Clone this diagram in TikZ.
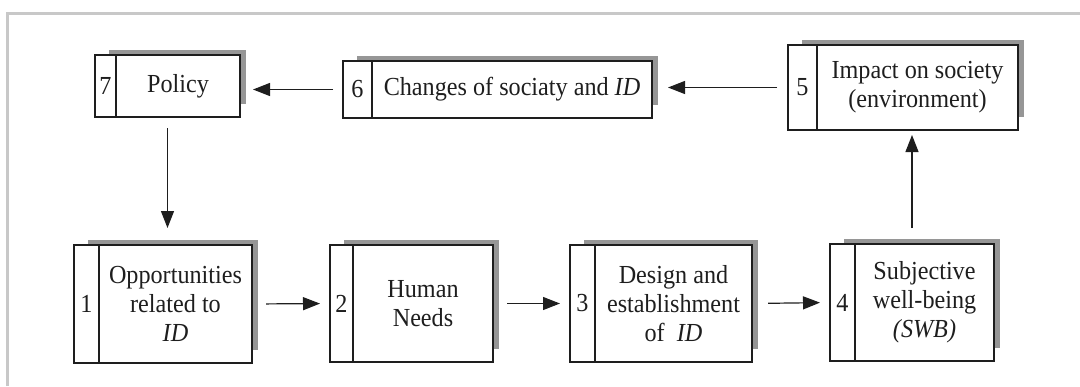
\documentclass[tikz,border=0pt]{standalone}
\usepackage{fontspec}
\setmainfont{Liberation Serif}[FakeStretch=0.93]
\usepackage{xcolor}
\usetikzlibrary{positioning, calc, arrows.meta, backgrounds}

\definecolor{framegray}{RGB}{200,200,200}
\definecolor{shadegray}{RGB}{150,150,150}
\definecolor{inkgray}{RGB}{30,30,30}

\begin{document}
\begin{tikzpicture}[x=0.5pt, y=-0.5pt,
    numcell/.style={draw=inkgray, line width=1.3pt, fill=white, outer sep=0pt, inner sep=0pt, anchor=north west},
    maincell/.style={draw=inkgray, line width=1.3pt, fill=white, outer sep=0pt, inner sep=0pt, align=center},
    arr/.style={-{Triangle[length=8.5pt, width=6.5pt]}, line width=0.6pt, inkgray},
    font=\fontsize{13}{14.6}\selectfont, text=inkgray]
  \useasboundingbox (0,0) rectangle (1080,386);
  \draw[framegray, line width=1.5pt] (7,386) -- (7,13) -- (1080,13);

  % top row
  \node[numcell, minimum width=10.5pt, minimum height=31pt] (n7) at (95,55) {7};
  \node[maincell, right=0pt of n7, minimum width=62pt, minimum height=31pt] (b7) {Policy};
  \node[numcell, minimum width=14.5pt, minimum height=28.5pt] (n6) at (343,61) {6};
  \node[maincell, right=0pt of n6, minimum width=140pt, minimum height=28.5pt] (b6) {Changes of sociaty and \textit{ID}};
  \node[numcell, minimum width=14.5pt, minimum height=42.5pt] (n5) at (788,45) {5};
  \node[maincell, right=0pt of n5, minimum width=100.5pt, minimum height=42.5pt] (b5) {Impact on society\\(environment)};

  % bottom row
  \node[numcell, minimum width=12.5pt, minimum height=59pt] (n1) at (74,245) {1};
  \node[maincell, right=0pt of n1, minimum width=76.5pt, minimum height=59pt] (b1) {Opportunities\\related to\\\textit{ID}};
  \node[numcell, minimum width=11.5pt, minimum height=58.5pt] (n2) at (330,245) {2};
  \node[maincell, right=0pt of n2, minimum width=70pt, minimum height=58.5pt] (b2) {Human\\Needs};
  \node[numcell, minimum width=12.5pt, minimum height=58.5pt] (n3) at (570,245) {3};
  \node[maincell, right=0pt of n3, minimum width=78.5pt, minimum height=58.5pt] (b3) {Design and\\establishment\\of~~\textit{ID}};
  \node[numcell, minimum width=12.5pt, minimum height=58.5pt] (n4) at (830,244) {4};
  \node[maincell, right=0pt of n4, minimum width=69.5pt, minimum height=58.5pt] (b4) {Subjective\\well-being\\\textit{(SWB)}};

  % shadows
  \begin{scope}[on background layer]
    \foreach \k in {1,...,7}
      \fill[shadegray] ($(n\k.north west)+(14,-5)$) rectangle ($(b\k.south east)+(6,-13)$);
  \end{scope}

  % arrows
  \draw[arr, shorten <=7pt, shorten >=5pt] (b1.east) -- (n2.west);
  \draw[arr, shorten <=7pt, shorten >=5pt] (b2.east) -- (n3.west);
  \draw[arr, shorten <=8pt, shorten >=5pt] (b3.east) -- (n4.west);
  \draw[arr, shorten <=8pt, shorten >=2.5pt] ($(n4.north west)!.5!(b4.north east)$) coordinate (c4) -- (c4 |- b5.south);
  \draw[arr, shorten <=5.5pt, shorten >=8pt] (n5.west) -- (n5.west -| b6.east);
  \draw[arr, shorten <=5pt, shorten >=6.5pt] (n6.west) -- (n6.west -| b7.east);
  \draw[arr, shorten <=5.5pt, shorten >=8.5pt] ($(n7.south west)!.5!(b7.south east)$) coordinate (c7) -- (c7 |- b1.north);
\end{tikzpicture}
\end{document}
